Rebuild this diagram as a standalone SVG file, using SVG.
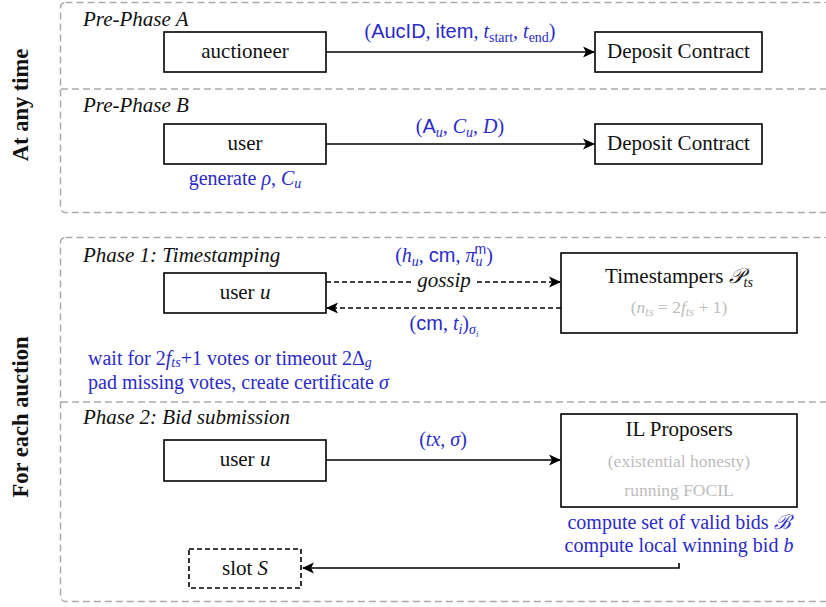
<svg xmlns="http://www.w3.org/2000/svg" width="826" height="607" viewBox="0 0 826 607">
<style>
text{font-family:"Liberation Serif","DejaVu Serif",serif;fill:#111}
.frame{fill:none;stroke:#aaaaaa;stroke-width:1.5;stroke-dasharray:7 4}
.node{fill:#fff;stroke:#000;stroke-width:1.6}
.dnode{fill:#fff;stroke:#000;stroke-width:1.6;stroke-dasharray:5 3}
.nl{font-size:21px}
.ph{font-size:21px;font-style:italic}
.side{font-size:22.5px;font-weight:bold}
.blue{fill:#2b2bc8;font-size:20px}
.gray{fill:#bdbdbd;font-size:17.5px}
.it{font-style:italic}
.sf{font-family:"Liberation Sans","DejaVu Sans",sans-serif}
.sub{font-size:14px}
.edge{fill:none;stroke:#000;stroke-width:1.6}
.dedge{fill:none;stroke:#000;stroke-width:1.6;stroke-dasharray:5 3}
</style>
<defs>
<marker id="ah" markerUnits="userSpaceOnUse" markerWidth="14" markerHeight="12" viewBox="-12 -6 14 12" refX="0" refY="0" orient="auto">
<path d="M-11,-5.5 L1,0 L-11,5.5 L-8,0 Z" fill="#000"/>
</marker>
</defs>

<g id="frames">
<rect class="frame" x="60.5" y="2.5" width="800" height="210" rx="5"/>
<line class="frame" x1="61" y1="89" x2="826" y2="89"/>
<rect class="frame" x="60.5" y="237.5" width="800" height="364" rx="5"/>
<line class="frame" x1="61" y1="402" x2="826" y2="402"/>
<text class="side" transform="translate(28,105) rotate(-90)" text-anchor="middle">At any time</text>
<text class="side" transform="translate(28,417) rotate(-90)" text-anchor="middle">For each auction</text>
<text class="ph" x="83" y="26">Pre-Phase A</text>
<text class="ph" x="83" y="112">Pre-Phase B</text>
<text class="ph" x="83" y="262">Phase 1:  Timestamping</text>
<text class="ph" x="83" y="424">Phase 2:  Bid submission</text>
</g>

<g id="auctioneer">
<rect class="node" x="164" y="32" width="162" height="40"/>
<text class="nl" x="245" y="58" text-anchor="middle">auctioneer</text>
</g>
<g id="depositA">
<rect class="node" x="595" y="32" width="167" height="40"/>
<text class="nl" x="678.5" y="58" text-anchor="middle">Deposit Contract</text>
</g>
<g id="userB">
<rect class="node" x="164" y="124" width="162" height="40"/>
<text class="nl" x="245" y="150" text-anchor="middle">user</text>
<text class="blue" x="245" y="185" text-anchor="middle">generate <tspan class="it">ρ</tspan>,  <tspan class="it">C</tspan><tspan class="sub it" dy="3">u</tspan></text>
</g>
<g id="depositB">
<rect class="node" x="595" y="124" width="167" height="40"/>
<text class="nl" x="678.5" y="150" text-anchor="middle">Deposit Contract</text>
</g>
<g id="user1">
<rect class="node" x="164" y="273" width="162" height="40"/>
<text class="nl" x="245" y="299" text-anchor="middle">user <tspan class="it">u</tspan></text>
<text class="blue" x="88" y="365">wait for 2<tspan class="it">f</tspan><tspan class="sub it" dy="2">ts</tspan><tspan dy="-2">+1 votes or timeout 2Δ</tspan><tspan class="sub it" dy="2">g</tspan></text>
<text class="blue" x="88" y="389">pad missing votes, create certificate <tspan class="it">σ</tspan></text>
</g>
<g id="timestampers">
<rect class="node" x="561" y="253" width="236" height="80"/>
<text class="nl" x="679" y="283" text-anchor="middle">Timestampers <tspan class="it">𝒫</tspan><tspan class="sub it" dy="4">ts</tspan></text>
<text class="gray" x="679" y="313" text-anchor="middle">(<tspan class="it">n</tspan><tspan class="it" font-size="12.5" dy="3">ts</tspan><tspan dy="-3"> = 2</tspan><tspan class="it">f</tspan><tspan class="it" font-size="12.5" dy="3">ts</tspan><tspan dy="-3"> + 1)</tspan></text>
</g>
<g id="user2">
<rect class="node" x="164" y="440" width="162" height="41"/>
<text class="nl" x="245" y="466" text-anchor="middle">user <tspan class="it">u</tspan></text>
</g>
<g id="ilproposers">
<rect class="node" x="561" y="414" width="236" height="93"/>
<text class="nl" x="679" y="436" text-anchor="middle">IL Proposers</text>
<text class="gray" x="679" y="467" text-anchor="middle">(existential honesty)</text>
<text class="gray" x="679" y="496" text-anchor="middle">running FOCIL</text>
<text class="blue" x="679" y="529" text-anchor="middle">compute set of valid bids <tspan class="it">ℬ</tspan></text>
<text class="blue" x="679" y="552" text-anchor="middle">compute local winning bid <tspan class="it">b</tspan></text>
</g>
<g id="slot">
<rect class="dnode" x="189" y="549" width="112" height="39"/>
<text class="nl" x="245" y="575" text-anchor="middle">slot <tspan class="it">S</tspan></text>
</g>

<g id="connectors">
<line class="edge" x1="326" y1="52" x2="594" y2="52" marker-end="url(#ah)"/>
<text class="blue" x="460" y="38" text-anchor="middle">(<tspan class="sf">AucID</tspan>, <tspan class="sf">item</tspan>, <tspan class="it">t</tspan><tspan class="sub" dy="4">start</tspan><tspan dy="-4">, </tspan><tspan class="it">t</tspan><tspan class="sub" dy="4">end</tspan><tspan dy="-4">)</tspan></text>
<line class="edge" x1="326" y1="144" x2="594" y2="144" marker-end="url(#ah)"/>
<text class="blue" x="460" y="133" text-anchor="middle">(<tspan class="sf">A</tspan><tspan class="sub it" dy="4">u</tspan><tspan dy="-4">, </tspan><tspan class="it">C</tspan><tspan class="sub it" dy="4">u</tspan><tspan dy="-4">, </tspan><tspan class="it">D</tspan>)</text>
<line class="dedge" x1="326" y1="282" x2="412" y2="282"/>
<line class="dedge" x1="477" y1="282" x2="560" y2="282" marker-end="url(#ah)"/>
<text class="nl it" x="444" y="287" text-anchor="middle">gossip</text>
<text class="blue" x="444" y="262" text-anchor="middle">(<tspan class="it">h</tspan><tspan class="sub it" dy="4">u</tspan><tspan dy="-4">, </tspan><tspan class="sf">cm</tspan>, <tspan class="it">π</tspan><tspan class="sub it" dy="4">u</tspan><tspan class="sub sf" dx="-8" dy="-12">m</tspan><tspan dy="8">)</tspan></text>
<line class="dedge" x1="561" y1="308" x2="327" y2="308" marker-end="url(#ah)"/>
<text class="blue" x="444" y="330" text-anchor="middle">(<tspan class="sf">cm</tspan>, <tspan class="it">t</tspan><tspan class="sub it" dy="4">i</tspan><tspan dy="-4">)</tspan><tspan class="sub it" dy="4">σ</tspan><tspan class="it" font-size="9" dy="3">i</tspan></text>
<line class="edge" x1="326" y1="460" x2="560" y2="460" marker-end="url(#ah)"/>
<text class="blue" x="443" y="446" text-anchor="middle">(<tspan class="it">tx</tspan>, <tspan class="it">σ</tspan>)</text>
<polyline class="edge" points="679,563 679,568 303,568" marker-end="url(#ah)"/>
</g>
</svg>
